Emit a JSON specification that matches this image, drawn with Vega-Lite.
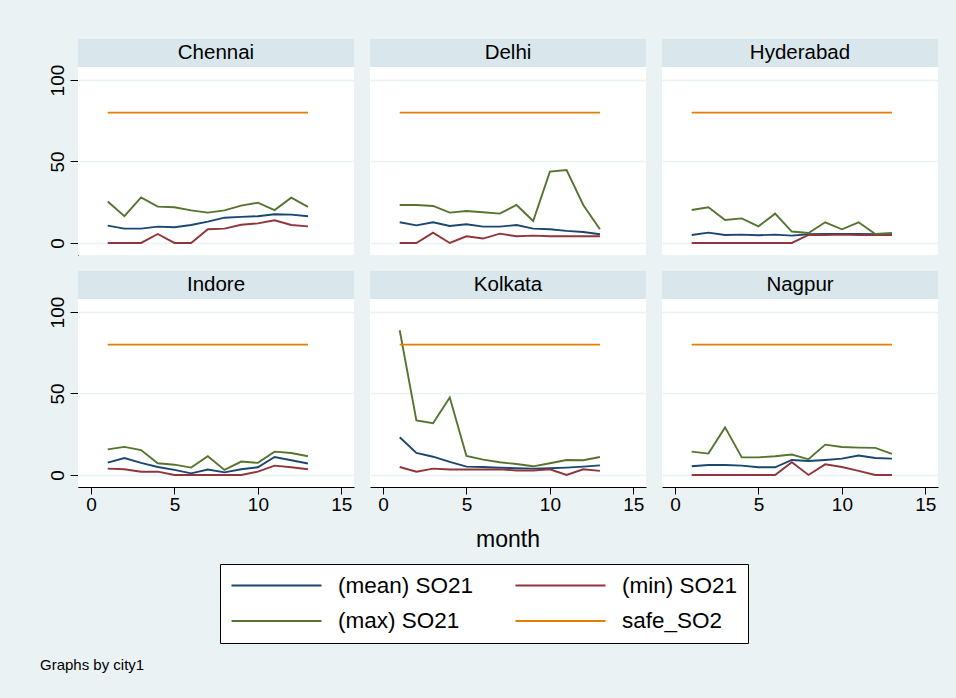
{
  "$schema": "https://vega.github.io/schema/vega-lite/v6.json",
  "background": "#eaf2f3",
  "padding": {"left": 40, "right": 19, "top": 38, "bottom": 26},
  "data": {"values": [
    {"city":"Chennai","month":1,"(mean) SO21":10.6,"(min) SO21":0,"(max) SO21":25.4,"safe_SO2":80},
    {"city":"Chennai","month":2,"(mean) SO21":8.8,"(min) SO21":0,"(max) SO21":16.4,"safe_SO2":80},
    {"city":"Chennai","month":3,"(mean) SO21":8.8,"(min) SO21":0,"(max) SO21":28,"safe_SO2":80},
    {"city":"Chennai","month":4,"(mean) SO21":10,"(min) SO21":5.5,"(max) SO21":22.3,"safe_SO2":80},
    {"city":"Chennai","month":5,"(mean) SO21":9.6,"(min) SO21":0,"(max) SO21":21.9,"safe_SO2":80},
    {"city":"Chennai","month":6,"(mean) SO21":11,"(min) SO21":0,"(max) SO21":20,"safe_SO2":80},
    {"city":"Chennai","month":7,"(mean) SO21":13.1,"(min) SO21":8.4,"(max) SO21":18.6,"safe_SO2":80},
    {"city":"Chennai","month":8,"(mean) SO21":15.5,"(min) SO21":8.8,"(max) SO21":20,"safe_SO2":80},
    {"city":"Chennai","month":9,"(mean) SO21":16,"(min) SO21":11.2,"(max) SO21":22.9,"safe_SO2":80},
    {"city":"Chennai","month":10,"(mean) SO21":16.4,"(min) SO21":12,"(max) SO21":24.7,"safe_SO2":80},
    {"city":"Chennai","month":11,"(mean) SO21":17.6,"(min) SO21":13.9,"(max) SO21":20.2,"safe_SO2":80},
    {"city":"Chennai","month":12,"(mean) SO21":17.4,"(min) SO21":11,"(max) SO21":27.8,"safe_SO2":80},
    {"city":"Chennai","month":13,"(mean) SO21":16.4,"(min) SO21":10.2,"(max) SO21":22.1,"safe_SO2":80},
    {"city":"Delhi","month":1,"(mean) SO21":12.7,"(min) SO21":0,"(max) SO21":23.3,"safe_SO2":80},
    {"city":"Delhi","month":2,"(mean) SO21":10.8,"(min) SO21":0,"(max) SO21":23.3,"safe_SO2":80},
    {"city":"Delhi","month":3,"(mean) SO21":12.7,"(min) SO21":6.3,"(max) SO21":22.7,"safe_SO2":80},
    {"city":"Delhi","month":4,"(mean) SO21":10.4,"(min) SO21":0,"(max) SO21":18.6,"safe_SO2":80},
    {"city":"Delhi","month":5,"(mean) SO21":11.5,"(min) SO21":4.1,"(max) SO21":19.6,"safe_SO2":80},
    {"city":"Delhi","month":6,"(mean) SO21":10,"(min) SO21":2.7,"(max) SO21":18.8,"safe_SO2":80},
    {"city":"Delhi","month":7,"(mean) SO21":10,"(min) SO21":5.7,"(max) SO21":18,"safe_SO2":80},
    {"city":"Delhi","month":8,"(mean) SO21":11,"(min) SO21":4.1,"(max) SO21":23.3,"safe_SO2":80},
    {"city":"Delhi","month":9,"(mean) SO21":8.8,"(min) SO21":4.5,"(max) SO21":13.5,"safe_SO2":80},
    {"city":"Delhi","month":10,"(mean) SO21":8.4,"(min) SO21":4.1,"(max) SO21":43.8,"safe_SO2":80},
    {"city":"Delhi","month":11,"(mean) SO21":7.4,"(min) SO21":4.1,"(max) SO21":44.8,"safe_SO2":80},
    {"city":"Delhi","month":12,"(mean) SO21":6.7,"(min) SO21":4.1,"(max) SO21":23.3,"safe_SO2":80},
    {"city":"Delhi","month":13,"(mean) SO21":5.3,"(min) SO21":4.1,"(max) SO21":8.4,"safe_SO2":80},
    {"city":"Hyderabad","month":1,"(mean) SO21":4.9,"(min) SO21":0,"(max) SO21":20.2,"safe_SO2":80},
    {"city":"Hyderabad","month":2,"(mean) SO21":6.3,"(min) SO21":0,"(max) SO21":21.9,"safe_SO2":80},
    {"city":"Hyderabad","month":3,"(mean) SO21":4.9,"(min) SO21":0,"(max) SO21":14.1,"safe_SO2":80},
    {"city":"Hyderabad","month":4,"(mean) SO21":5.1,"(min) SO21":0,"(max) SO21":15.1,"safe_SO2":80},
    {"city":"Hyderabad","month":5,"(mean) SO21":4.7,"(min) SO21":0,"(max) SO21":10.2,"safe_SO2":80},
    {"city":"Hyderabad","month":6,"(mean) SO21":5.1,"(min) SO21":0,"(max) SO21":18,"safe_SO2":80},
    {"city":"Hyderabad","month":7,"(mean) SO21":4.5,"(min) SO21":0,"(max) SO21":7,"safe_SO2":80},
    {"city":"Hyderabad","month":8,"(mean) SO21":5.3,"(min) SO21":4.9,"(max) SO21":6.1,"safe_SO2":80},
    {"city":"Hyderabad","month":9,"(mean) SO21":5.5,"(min) SO21":4.9,"(max) SO21":12.7,"safe_SO2":80},
    {"city":"Hyderabad","month":10,"(mean) SO21":5.5,"(min) SO21":5.1,"(max) SO21":8.4,"safe_SO2":80},
    {"city":"Hyderabad","month":11,"(mean) SO21":5.5,"(min) SO21":4.9,"(max) SO21":12.7,"safe_SO2":80},
    {"city":"Hyderabad","month":12,"(mean) SO21":5.3,"(min) SO21":4.9,"(max) SO21":5.5,"safe_SO2":80},
    {"city":"Hyderabad","month":13,"(mean) SO21":5.3,"(min) SO21":4.9,"(max) SO21":6.1,"safe_SO2":80},
    {"city":"Indore","month":1,"(mean) SO21":7.6,"(min) SO21":3.9,"(max) SO21":15.7,"safe_SO2":80},
    {"city":"Indore","month":2,"(mean) SO21":10.4,"(min) SO21":3.5,"(max) SO21":17.2,"safe_SO2":80},
    {"city":"Indore","month":3,"(mean) SO21":7.4,"(min) SO21":2,"(max) SO21":15.3,"safe_SO2":80},
    {"city":"Indore","month":4,"(mean) SO21":4.9,"(min) SO21":2,"(max) SO21":7.2,"safe_SO2":80},
    {"city":"Indore","month":5,"(mean) SO21":3.1,"(min) SO21":0,"(max) SO21":6.3,"safe_SO2":80},
    {"city":"Indore","month":6,"(mean) SO21":1,"(min) SO21":0,"(max) SO21":4.5,"safe_SO2":80},
    {"city":"Indore","month":7,"(mean) SO21":3.3,"(min) SO21":0,"(max) SO21":11.5,"safe_SO2":80},
    {"city":"Indore","month":8,"(mean) SO21":1.6,"(min) SO21":0,"(max) SO21":3.1,"safe_SO2":80},
    {"city":"Indore","month":9,"(mean) SO21":3.5,"(min) SO21":0,"(max) SO21":8.2,"safe_SO2":80},
    {"city":"Indore","month":10,"(mean) SO21":4.7,"(min) SO21":2,"(max) SO21":7.4,"safe_SO2":80},
    {"city":"Indore","month":11,"(mean) SO21":11,"(min) SO21":5.7,"(max) SO21":14.3,"safe_SO2":80},
    {"city":"Indore","month":12,"(mean) SO21":9,"(min) SO21":4.7,"(max) SO21":13.5,"safe_SO2":80},
    {"city":"Indore","month":13,"(mean) SO21":7,"(min) SO21":3.5,"(max) SO21":11.5,"safe_SO2":80},
    {"city":"Kolkata","month":1,"(mean) SO21":23.1,"(min) SO21":4.9,"(max) SO21":88.8,"safe_SO2":80},
    {"city":"Kolkata","month":2,"(mean) SO21":13.5,"(min) SO21":2,"(max) SO21":33.5,"safe_SO2":80},
    {"city":"Kolkata","month":3,"(mean) SO21":11.2,"(min) SO21":3.9,"(max) SO21":31.7,"safe_SO2":80},
    {"city":"Kolkata","month":4,"(mean) SO21":8,"(min) SO21":3.3,"(max) SO21":47.6,"safe_SO2":80},
    {"city":"Kolkata","month":5,"(mean) SO21":5.1,"(min) SO21":3.3,"(max) SO21":11.7,"safe_SO2":80},
    {"city":"Kolkata","month":6,"(mean) SO21":4.9,"(min) SO21":3.3,"(max) SO21":9.4,"safe_SO2":80},
    {"city":"Kolkata","month":7,"(mean) SO21":4.5,"(min) SO21":3.5,"(max) SO21":7.8,"safe_SO2":80},
    {"city":"Kolkata","month":8,"(mean) SO21":4.1,"(min) SO21":2.7,"(max) SO21":6.7,"safe_SO2":80},
    {"city":"Kolkata","month":9,"(mean) SO21":3.9,"(min) SO21":2.7,"(max) SO21":5.3,"safe_SO2":80},
    {"city":"Kolkata","month":10,"(mean) SO21":4.1,"(min) SO21":3.5,"(max) SO21":7.2,"safe_SO2":80},
    {"city":"Kolkata","month":11,"(mean) SO21":4.5,"(min) SO21":0,"(max) SO21":9.2,"safe_SO2":80},
    {"city":"Kolkata","month":12,"(mean) SO21":5.1,"(min) SO21":3.5,"(max) SO21":9,"safe_SO2":80},
    {"city":"Kolkata","month":13,"(mean) SO21":5.9,"(min) SO21":2.5,"(max) SO21":11,"safe_SO2":80},
    {"city":"Nagpur","month":1,"(mean) SO21":5.3,"(min) SO21":0,"(max) SO21":14.3,"safe_SO2":80},
    {"city":"Nagpur","month":2,"(mean) SO21":6.1,"(min) SO21":0,"(max) SO21":13.1,"safe_SO2":80},
    {"city":"Nagpur","month":3,"(mean) SO21":6.1,"(min) SO21":0,"(max) SO21":29.2,"safe_SO2":80},
    {"city":"Nagpur","month":4,"(mean) SO21":5.7,"(min) SO21":0,"(max) SO21":10.8,"safe_SO2":80},
    {"city":"Nagpur","month":5,"(mean) SO21":4.7,"(min) SO21":0,"(max) SO21":10.8,"safe_SO2":80},
    {"city":"Nagpur","month":6,"(mean) SO21":4.7,"(min) SO21":0,"(max) SO21":11.5,"safe_SO2":80},
    {"city":"Nagpur","month":7,"(mean) SO21":9.2,"(min) SO21":7.8,"(max) SO21":12.5,"safe_SO2":80},
    {"city":"Nagpur","month":8,"(mean) SO21":8.6,"(min) SO21":0,"(max) SO21":9.6,"safe_SO2":80},
    {"city":"Nagpur","month":9,"(mean) SO21":9.2,"(min) SO21":6.5,"(max) SO21":18.6,"safe_SO2":80},
    {"city":"Nagpur","month":10,"(mean) SO21":10,"(min) SO21":4.9,"(max) SO21":17.2,"safe_SO2":80},
    {"city":"Nagpur","month":11,"(mean) SO21":11.9,"(min) SO21":2.5,"(max) SO21":16.8,"safe_SO2":80},
    {"city":"Nagpur","month":12,"(mean) SO21":10.4,"(min) SO21":0,"(max) SO21":16.6,"safe_SO2":80},
    {"city":"Nagpur","month":13,"(mean) SO21":10,"(min) SO21":0,"(max) SO21":12.9,"safe_SO2":80}
  ]},
  "transform": [
    {"fold": ["(mean) SO21", "(min) SO21", "(max) SO21", "safe_SO2"], "as": ["series", "value"]}
  ],
  "title": {"text": "Graphs by city1", "orient": "bottom", "anchor": "start", "frame": "bounds", "dx": -8, "offset": 14, "fontSize": 15, "fontWeight": "normal", "font": "Liberation Sans", "color": "#000"},
  "facet": {
    "field": "city", "type": "nominal", "title": "month",
    "header": {"labels": false, "labelExpr": "''", "labelPadding": 0, "labelFontSize": 1, "titleOrient": "bottom", "titleFontSize": 23, "titleFont": "Liberation Sans", "titleFontWeight": "normal", "titleColor": "#000", "titlePadding": 15}
  },
  "columns": 3,
  "spacing": {"row": 15, "column": 16},
  "spec": {
    "width": 276,
    "height": 216,
    "layer": [
      {
        "mark": {"type": "line", "strokeWidth": 1.9},
        "encoding": {
          "x": {"field": "month", "type": "quantitative", "title": null,
                "scale": {"domain": [-0.78, 15.76], "nice": false, "zero": false},
                "axis": {"values": [0, 5, 10, 15], "grid": false, "tickSize": 7, "labelFontSize": 19, "labelPadding": 1, "domainColor": "#000", "tickColor": "#000", "labelColor": "#000", "labelFont": "Liberation Sans"}},
          "y": {"field": "value", "type": "quantitative", "title": null,
                "scale": {"domain": [-7.4, 125.2], "nice": false, "zero": false},
                "axis": {"values": [0, 50, 100], "grid": true, "gridColor": "#eaf2f3", "gridWidth": 1.5, "tickSize": 8, "labelAngle": -90, "labelAlign": "center", "labelBaseline": "bottom", "labelFontSize": 19, "labelPadding": 3, "domainColor": "#000", "tickColor": "#000", "labelColor": "#000", "labelFont": "Liberation Sans"}},
          "color": {"field": "series", "type": "nominal",
                    "scale": {"domain": ["(mean) SO21", "(max) SO21", "(min) SO21", "safe_SO2"], "range": ["#1a476f", "#55752f", "#90353b", "#e37e00"]},
                    "legend": {"orient": "none", "legendX": 142, "legendY": 525, "columns": 2, "title": null,
                               "symbolType": "M-1,0H8", "symbolSize": 400, "symbolStrokeWidth": 2.2, "labelOffset": 85,
                               "labelFontSize": 22.5, "labelFont": "Liberation Sans", "labelColor": "#000", "labelLimit": 400,
                               "columnPadding": 37, "rowPadding": 12.5, "padding": 10,
                               "strokeColor": "#000", "fillColor": "#ffffff"}}
        }
      },
      {
        "transform": [{"filter": "datum.month === 1 && datum.series === 'safe_SO2'"}],
        "mark": {"type": "rect", "color": "#d9e6eb"},
        "encoding": {
          "x": {"datum": -0.78}, "x2": {"datum": 15.76},
          "y": {"datum": 108}, "y2": {"datum": 125.2}
        }
      },
      {
        "transform": [{"filter": "datum.month === 1 && datum.series === 'safe_SO2'"}],
        "mark": {"type": "text", "fontSize": 20.5, "font": "Liberation Sans", "color": "#000", "baseline": "middle"},
        "encoding": {
          "x": {"datum": 7.49}, "y": {"datum": 116.8},
          "text": {"field": "city"}
        }
      }
    ]
  },
  "config": {
    "view": {"stroke": null, "fill": "#ffffff"},
    "font": "Liberation Sans",
    "header": {"labels": false},
    "headerFacet": {"labels": false}
  }
}
